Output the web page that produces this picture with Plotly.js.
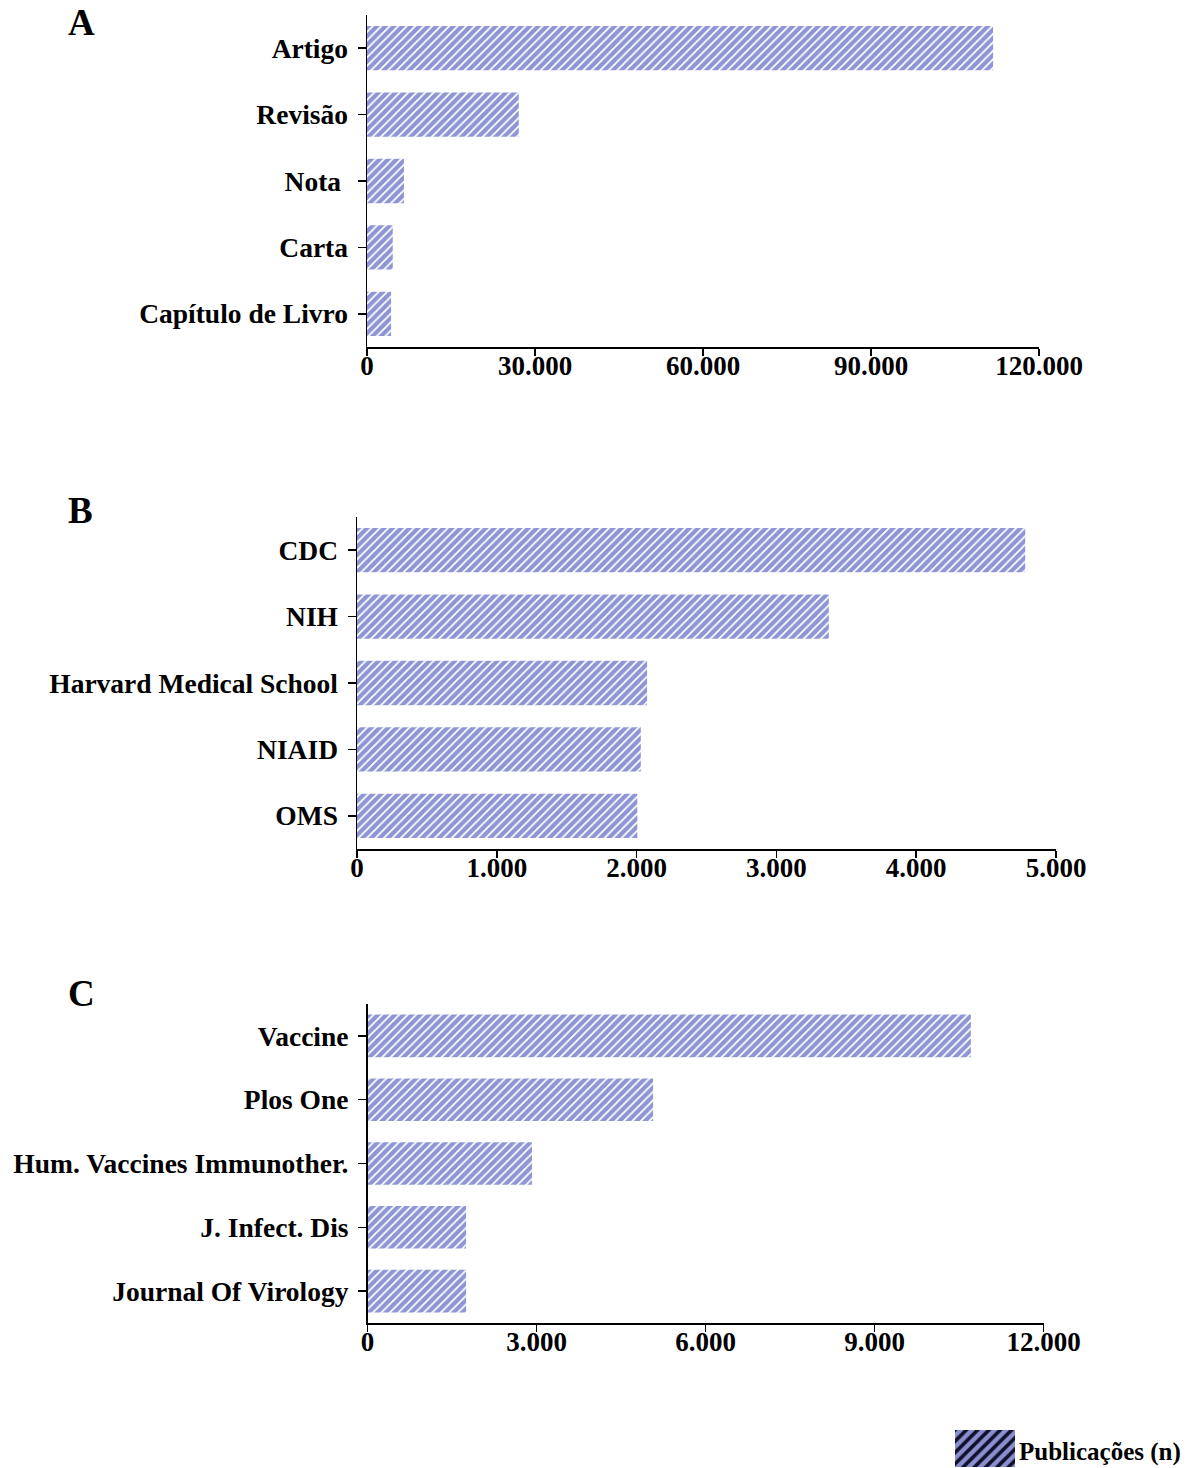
<!DOCTYPE html>
<html>
<head>
<meta charset="utf-8">
<script src="https://cdn.plot.ly/plotly-3.0.1.min.js"></script>
<style>html,body{margin:0;padding:0;background:#fff;}#chart{width:1189px;height:1468px;}</style>
</head>
<body>
<div id="chart"></div>
<script>
// Panel A: tipos de documento
const catsA = ["Artigo", "Revisão", "Nota\u00a0", "Carta", "Capítulo de Livro"];
const valsA = [111800, 27100, 6600, 4600, 4300];
// Panel B: instituições
const catsB = ["CDC", "NIH", "Harvard Medical School", "NIAID", "OMS"];
const valsB = [4780, 3375, 2075, 2030, 2005];
// Panel C: periódicos
const catsC = ["Vaccine", "Plos One", "Hum. Vaccines Immunother.", "J. Infect. Dis", "Journal Of Virology"];
const valsC = [10710, 5070, 2920, 1750, 1750];
// tick labels
const ticksA = [0, 30000, 60000, 90000, 120000];
const ticksB = [0, 1000, 2000, 3000, 4000, 5000];
const ticksC = [0, 3000, 6000, 9000, 12000];
const panelLabels = ["A", "B", "C"];
const legendLabel = "Publicações (n)";

const W = 1189, H = 1468;
const px = v => v / W;
const py = v => 1 - v / H;
const FONT = "Liberation Serif, Times New Roman, serif";
const barColor = "#8e95d5";

function barTrace(cats, vals, xa, ya) {
  return {
    type: "bar", orientation: "h", y: cats, x: vals, xaxis: xa, yaxis: ya,
    marker: { color: barColor, line: { width: 0 },
      pattern: { shape: "/", fgcolor: "#ffffff", bgcolor: barColor, size: 6, solidity: 0.3 } },
    showlegend: false, hoverinfo: "skip"
  };
}

const data = [
  barTrace(catsA, valsA, "x", "y"),
  barTrace(catsB, valsB, "x2", "y2"),
  barTrace(catsC, valsC, "x3", "y3"),
  {
    type: "bar", orientation: "h", y: [legendLabel], x: [1], xaxis: "x4", yaxis: "y4", width: 1,
    marker: { color: "#8a8fd0", line: { width: 0 },
      pattern: { shape: "/", fgcolor: "#10102a", bgcolor: "#8a8fd0", size: 8, solidity: 0.45 } },
    showlegend: false, hoverinfo: "skip"
  }
];

function xAxis(dom, range, ticks, anchor) {
  return {
    domain: dom, range: range, anchor: anchor, showline: true, linecolor: "#000", linewidth: 1.5,
    ticks: "outside", ticklen: 7, tickwidth: 1.5, tickcolor: "#000", ticklabelstandoff: -13,
    tickvals: ticks, tickformat: ",d", showgrid: false, zeroline: false, fixedrange: true,
    tickfont: { family: FONT, size: 27, color: "#000", weight: "bold" }
  };
}
function yAxis(dom, anchor) {
  return {
    domain: dom, anchor: anchor, type: "category", range: [4.5, -0.5], showline: true,
    linecolor: "#000", linewidth: 1.5, ticks: "outside", ticklen: 8, tickwidth: 1.5, tickcolor: "#000",
    showgrid: false, zeroline: false, fixedrange: true, ticklabelstandoff: 4,
    tickfont: { family: FONT, size: 27.5, color: "#000", weight: "bold" }
  };
}

const layout = {
  width: W, height: H, margin: { l: 0, r: 0, t: 0, b: 0 },
  paper_bgcolor: "#fff", plot_bgcolor: "#fff", separators: ",.", bargap: 0.333,
  showlegend: false,
  xaxis: xAxis([px(367), px(1039)], [0, 120000], ticksA, "y"),
  yaxis: yAxis([py(347), py(15)], "x"),
  xaxis2: xAxis([px(357), px(1056)], [0, 5000], ticksB, "y2"),
  yaxis2: yAxis([py(849), py(517)], "x2"),
  xaxis3: xAxis([px(367.5), px(1043.5)], [0, 12000], ticksC, "y3"),
  yaxis3: yAxis([py(1323), py(1004)], "x3"),
  xaxis4: { domain: [px(955), px(1015)], range: [0, 1], anchor: "y4", visible: false, fixedrange: true },
  yaxis4: { domain: [py(1467), py(1430)], anchor: "x4", type: "category", range: [-0.5, 0.5], visible: false, fixedrange: true },
  annotations: [
    { text: panelLabels[0], xref: "paper", yref: "paper", x: px(66), y: py(0), xanchor: "left", yanchor: "top", showarrow: false,
      font: { family: FONT, size: 37, color: "#000", weight: "bold" } },
    { text: panelLabels[1], xref: "paper", yref: "paper", x: px(66), y: py(488), xanchor: "left", yanchor: "top", showarrow: false,
      font: { family: FONT, size: 37, color: "#000", weight: "bold" } },
    { text: panelLabels[2], xref: "paper", yref: "paper", x: px(66), y: py(971), xanchor: "left", yanchor: "top", showarrow: false,
      font: { family: FONT, size: 37, color: "#000", weight: "bold" } },
    { text: legendLabel, xref: "paper", yref: "paper", x: px(1017), y: py(1452), xanchor: "left", yanchor: "middle", showarrow: false,
      font: { family: FONT, size: 25, color: "#000", weight: "bold" } }
  ]
};

Plotly.newPlot("chart", data, layout, { displayModeBar: false, staticPlot: true });
</script>
</body>
</html>
